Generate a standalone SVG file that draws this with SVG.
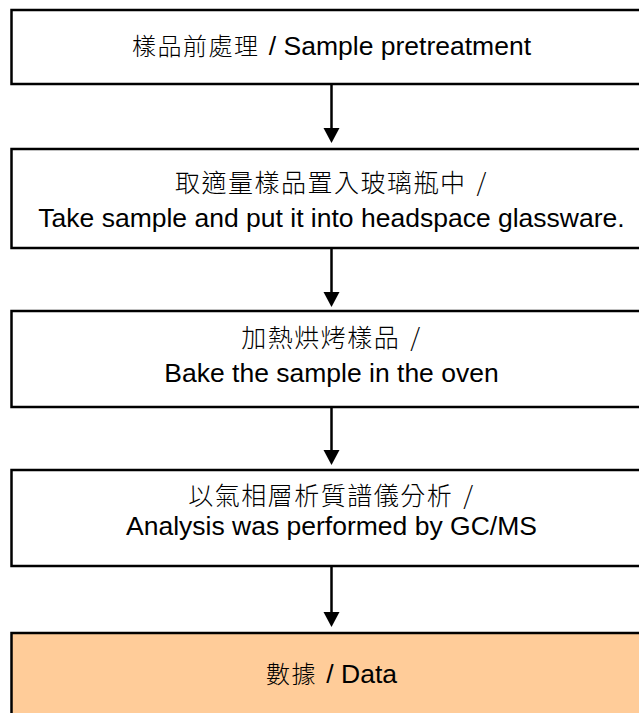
<svg xmlns="http://www.w3.org/2000/svg" width="639" height="713" viewBox="0 0 639 713">
<defs>
<style>
.box{fill:#ffffff;stroke:#000000;stroke-width:2.5}
.data{fill:#FFCC99;stroke:#000000;stroke-width:2.5}
.t{font-family:"Liberation Sans","Noto Sans CJK TC",sans-serif;font-size:26.5px;fill:#000000;text-anchor:middle}
.c{font-family:"Noto Sans CJK TC","Liberation Sans",sans-serif;font-size:25px;font-weight:300;fill:#000000;text-anchor:middle}
.cj{font-family:"Noto Sans CJK TC",sans-serif;font-size:24px;font-weight:300;letter-spacing:1.5px}
.conn{stroke:#000000;stroke-width:2.5;fill:none}
.head{fill:#000000}
</style>
</defs>
<rect width="639" height="713" fill="#ffffff"/>
<g id="node1">
<rect class="box" x="11.5" y="10" width="640" height="74"/>
<text class="t" x="331.5" y="55"><tspan class="cj">樣品前處理</tspan><tspan dx="2"> / Sample pretreatment</tspan></text>
</g>
<g id="node2">
<rect class="box" x="11.5" y="149" width="640" height="99"/>
<text class="c" x="331.5" y="192" letter-spacing="1.5">取適量樣品置入玻璃瓶中<tspan dx="10">/</tspan></text>
<text class="t" x="331.5" y="227">Take sample and put it into headspace glassware.</text>
</g>
<g id="node3">
<rect class="box" x="11.5" y="311" width="640" height="96"/>
<text class="c" x="331.5" y="347" letter-spacing="1.5">加熱烘烤樣品<tspan dx="10">/</tspan></text>
<text class="t" x="331.5" y="382">Bake the sample in the oven</text>
</g>
<g id="node4">
<rect class="box" x="11.5" y="470" width="640" height="96"/>
<text class="c" x="331.5" y="505" letter-spacing="1.5">以氣相層析質譜儀分析<tspan dx="10">/</tspan></text>
<text class="t" x="331.5" y="535">Analysis was performed by GC/MS</text>
</g>
<g id="node5">
<rect class="data" x="11.5" y="633" width="640" height="100"/>
<text class="t" x="331.5" y="683"><tspan class="cj">數據</tspan><tspan dx="2"> / Data</tspan></text>
</g>
<g id="connectors">
<line class="conn" x1="331.5" y1="84" x2="331.5" y2="130"/>
<path class="head" d="M323.5,128 L339.5,128 L331.5,143 Z"/>
<line class="conn" x1="331.5" y1="248" x2="331.5" y2="294"/>
<path class="head" d="M323.5,292 L339.5,292 L331.5,307 Z"/>
<line class="conn" x1="331.5" y1="407" x2="331.5" y2="452"/>
<path class="head" d="M323.5,450 L339.5,450 L331.5,465 Z"/>
<line class="conn" x1="331.5" y1="566" x2="331.5" y2="614"/>
<path class="head" d="M323.5,612 L339.5,612 L331.5,627 Z"/>
</g>
</svg>
